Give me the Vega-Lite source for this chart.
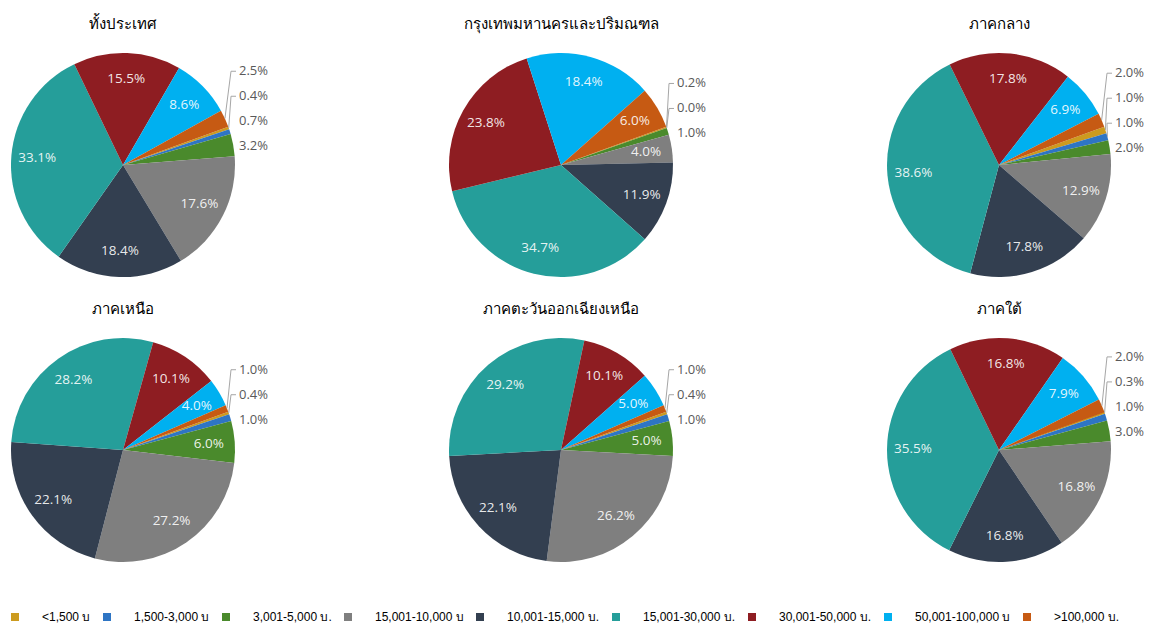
{
  "$schema": "https://vega.github.io/schema/vega-lite/v6.json",
  "background": "white",
  "padding": {"left": 3, "top": 17, "right": 0, "bottom": 0},
  "data": {"values": [
    {"region": "ทั้งประเทศ", "cat": "<1,500 บ", "o": 1, "v": 0.4},
    {"region": "ทั้งประเทศ", "cat": "1,500-3,000 บ", "o": 2, "v": 0.7},
    {"region": "ทั้งประเทศ", "cat": "3,001-5,000 บ.", "o": 3, "v": 3.2},
    {"region": "ทั้งประเทศ", "cat": "15,001-10,000 บ", "o": 4, "v": 17.6},
    {"region": "ทั้งประเทศ", "cat": "10,001-15,000 บ.", "o": 5, "v": 18.4},
    {"region": "ทั้งประเทศ", "cat": "15,001-30,000 บ.", "o": 6, "v": 33.1},
    {"region": "ทั้งประเทศ", "cat": "30,001-50,000 บ.", "o": 7, "v": 15.5},
    {"region": "ทั้งประเทศ", "cat": "50,001-100,000 บ", "o": 8, "v": 8.6},
    {"region": "ทั้งประเทศ", "cat": ">100,000 บ.", "o": 9, "v": 2.5},
    {"region": "กรุงเทพมหานครและปริมณฑล", "cat": "<1,500 บ", "o": 1, "v": 0.2},
    {"region": "กรุงเทพมหานครและปริมณฑล", "cat": "1,500-3,000 บ", "o": 2, "v": 0.0},
    {"region": "กรุงเทพมหานครและปริมณฑล", "cat": "3,001-5,000 บ.", "o": 3, "v": 1.0},
    {"region": "กรุงเทพมหานครและปริมณฑล", "cat": "15,001-10,000 บ", "o": 4, "v": 4.0},
    {"region": "กรุงเทพมหานครและปริมณฑล", "cat": "10,001-15,000 บ.", "o": 5, "v": 11.9},
    {"region": "กรุงเทพมหานครและปริมณฑล", "cat": "15,001-30,000 บ.", "o": 6, "v": 34.7},
    {"region": "กรุงเทพมหานครและปริมณฑล", "cat": "30,001-50,000 บ.", "o": 7, "v": 23.8},
    {"region": "กรุงเทพมหานครและปริมณฑล", "cat": "50,001-100,000 บ", "o": 8, "v": 18.4},
    {"region": "กรุงเทพมหานครและปริมณฑล", "cat": ">100,000 บ.", "o": 9, "v": 6.0},
    {"region": "ภาคกลาง", "cat": "<1,500 บ", "o": 1, "v": 1.0},
    {"region": "ภาคกลาง", "cat": "1,500-3,000 บ", "o": 2, "v": 1.0},
    {"region": "ภาคกลาง", "cat": "3,001-5,000 บ.", "o": 3, "v": 2.0},
    {"region": "ภาคกลาง", "cat": "15,001-10,000 บ", "o": 4, "v": 12.9},
    {"region": "ภาคกลาง", "cat": "10,001-15,000 บ.", "o": 5, "v": 17.8},
    {"region": "ภาคกลาง", "cat": "15,001-30,000 บ.", "o": 6, "v": 38.6},
    {"region": "ภาคกลาง", "cat": "30,001-50,000 บ.", "o": 7, "v": 17.8},
    {"region": "ภาคกลาง", "cat": "50,001-100,000 บ", "o": 8, "v": 6.9},
    {"region": "ภาคกลาง", "cat": ">100,000 บ.", "o": 9, "v": 2.0},
    {"region": "ภาคเหนือ", "cat": "<1,500 บ", "o": 1, "v": 0.4},
    {"region": "ภาคเหนือ", "cat": "1,500-3,000 บ", "o": 2, "v": 1.0},
    {"region": "ภาคเหนือ", "cat": "3,001-5,000 บ.", "o": 3, "v": 6.0},
    {"region": "ภาคเหนือ", "cat": "15,001-10,000 บ", "o": 4, "v": 27.2},
    {"region": "ภาคเหนือ", "cat": "10,001-15,000 บ.", "o": 5, "v": 22.1},
    {"region": "ภาคเหนือ", "cat": "15,001-30,000 บ.", "o": 6, "v": 28.2},
    {"region": "ภาคเหนือ", "cat": "30,001-50,000 บ.", "o": 7, "v": 10.1},
    {"region": "ภาคเหนือ", "cat": "50,001-100,000 บ", "o": 8, "v": 4.0},
    {"region": "ภาคเหนือ", "cat": ">100,000 บ.", "o": 9, "v": 1.0},
    {"region": "ภาคตะวันออกเฉียงเหนือ", "cat": "<1,500 บ", "o": 1, "v": 0.4},
    {"region": "ภาคตะวันออกเฉียงเหนือ", "cat": "1,500-3,000 บ", "o": 2, "v": 1.0},
    {"region": "ภาคตะวันออกเฉียงเหนือ", "cat": "3,001-5,000 บ.", "o": 3, "v": 5.0},
    {"region": "ภาคตะวันออกเฉียงเหนือ", "cat": "15,001-10,000 บ", "o": 4, "v": 26.2},
    {"region": "ภาคตะวันออกเฉียงเหนือ", "cat": "10,001-15,000 บ.", "o": 5, "v": 22.1},
    {"region": "ภาคตะวันออกเฉียงเหนือ", "cat": "15,001-30,000 บ.", "o": 6, "v": 29.2},
    {"region": "ภาคตะวันออกเฉียงเหนือ", "cat": "30,001-50,000 บ.", "o": 7, "v": 10.1},
    {"region": "ภาคตะวันออกเฉียงเหนือ", "cat": "50,001-100,000 บ", "o": 8, "v": 5.0},
    {"region": "ภาคตะวันออกเฉียงเหนือ", "cat": ">100,000 บ.", "o": 9, "v": 1.0},
    {"region": "ภาคใต้", "cat": "<1,500 บ", "o": 1, "v": 0.3},
    {"region": "ภาคใต้", "cat": "1,500-3,000 บ", "o": 2, "v": 1.0},
    {"region": "ภาคใต้", "cat": "3,001-5,000 บ.", "o": 3, "v": 3.0},
    {"region": "ภาคใต้", "cat": "15,001-10,000 บ", "o": 4, "v": 16.8},
    {"region": "ภาคใต้", "cat": "10,001-15,000 บ.", "o": 5, "v": 16.8},
    {"region": "ภาคใต้", "cat": "15,001-30,000 บ.", "o": 6, "v": 35.5},
    {"region": "ภาคใต้", "cat": "30,001-50,000 บ.", "o": 7, "v": 16.8},
    {"region": "ภาคใต้", "cat": "50,001-100,000 บ", "o": 8, "v": 7.9},
    {"region": "ภาคใต้", "cat": ">100,000 บ.", "o": 9, "v": 2.0}
  ]},
  "transform": [{"calculate": "format(datum.v, '.1f') + '%'", "as": "lab"}],
  "facet": {
    "field": "region", "type": "nominal",
    "sort": ["ทั้งประเทศ", "กรุงเทพมหานครและปริมณฑล", "ภาคกลาง", "ภาคเหนือ", "ภาคตะวันออกเฉียงเหนือ", "ภาคใต้"],
    "header": {"title": null, "labelFontSize": 15, "labelColor": "#000000", "labelPadding": 8, "labelFont": "Noto Sans"}
  },
  "columns": 3,
  "spacing": {"row": 12, "column": 172},
  "spec": {
    "width": 240,
    "height": 250,
    "layer": [
      {
        "mark": {"type": "arc", "outerRadius": 112},
        "encoding": {
          "theta": {"field": "v", "type": "quantitative", "stack": true, "scale": {"domain": [0, 100], "range": [1.2217, 7.5049]}},
          "order": {"field": "o", "type": "quantitative", "sort": "ascending"},
          "color": {
            "field": "cat", "type": "nominal",
            "scale": {
              "domain": ["<1,500 บ", "1,500-3,000 บ", "3,001-5,000 บ.", "15,001-10,000 บ", "10,001-15,000 บ.", "15,001-30,000 บ.", "30,001-50,000 บ.", "50,001-100,000 บ", ">100,000 บ."],
              "range": ["#CC9B1F", "#2E75C4", "#4A8A2C", "#7F7F7F", "#333F50", "#259E9A", "#8E1D22", "#00B0F0", "#C65A13"]
            },
            "legend": {"title": null}
          }
        }
      },
      {
        "mark": {"type": "text", "radius": 86, "font": "Open Sans", "fontSize": 13.5, "fill": "#ffffff", "fillOpacity": 0.9},
        "encoding": {
          "theta": {"field": "v", "type": "quantitative", "stack": true},
          "order": {"field": "o", "type": "quantitative", "sort": "ascending"},
          "detail": {"field": "cat", "type": "nominal"},
          "text": {"condition": {"test": "datum.v >= 4", "field": "lab"}, "value": ""}
        }
      },
      {
        "transform": [
          {"window": [{"op": "sum", "field": "v", "as": "cum"}], "sort": [{"field": "o", "order": "ascending"}], "groupby": ["region"], "frame": [null, 0]},
          {"calculate": "(70 + (datum.cum - datum.v / 2) * 3.6) * PI / 180", "as": "mid"},
          {"filter": "datum.v < 4"},
          {"calculate": "datum.o == 9 ? 0 : datum.o", "as": "key"},
          {"window": [{"op": "row_number", "as": "k"}], "sort": [{"field": "key", "order": "descending"}], "groupby": ["region"]},
          {"calculate": "-105 * cos(datum.mid) + 25 * datum.k", "as": "t"},
          {"window": [{"op": "min", "field": "t", "as": "tmin"}], "sort": [{"field": "key", "order": "descending"}], "groupby": ["region"], "frame": [null, 0]},
          {"calculate": "datum.tmin - 25 * datum.k", "as": "ly"},
          {"calculate": "116", "as": "lx"},
          {"calculate": "108", "as": "ex"},
          {"calculate": "113", "as": "tx"},
          {"calculate": "112 * sin(datum.mid)", "as": "px"},
          {"calculate": "-112 * cos(datum.mid)", "as": "py"},
          {"calculate": "sqrt(pow(datum.ex - datum.px, 2) + pow(datum.ly - datum.py, 2))", "as": "dist"}
        ],
        "layer": [
          {
            "transform": [{"filter": "datum.dist > 12"}],
            "mark": {"type": "rule", "stroke": "#a6a6a6", "strokeWidth": 1},
            "encoding": {
              "x": {"field": "px", "type": "quantitative", "scale": {"domain": [-120, 120], "nice": false, "zero": false}, "axis": null},
              "y": {"field": "py", "type": "quantitative", "scale": {"domain": [-125, 125], "nice": false, "zero": false, "reverse": true}, "axis": null},
              "x2": {"field": "ex"},
              "y2": {"field": "ly"}
            }
          },
          {
            "transform": [{"filter": "datum.dist > 12"}],
            "mark": {"type": "rule", "stroke": "#a6a6a6", "strokeWidth": 1},
            "encoding": {
              "x": {"field": "ex", "type": "quantitative"},
              "y": {"field": "ly", "type": "quantitative"},
              "x2": {"field": "tx"},
              "y2": {"field": "ly"}
            }
          },
          {
            "mark": {"type": "text", "align": "left", "baseline": "middle", "font": "Open Sans", "fontSize": 13, "fill": "#595959"},
            "encoding": {
              "x": {"field": "lx", "type": "quantitative"},
              "y": {"field": "ly", "type": "quantitative"},
              "text": {"field": "lab"}
            }
          }
        ]
      }
    ]
  },
  "config": {
    "view": {"stroke": null},
    "legend": {
      "orient": "bottom", "direction": "horizontal", "symbolType": "square", "symbolSize": 64,
      "symbolStrokeWidth": 0, "labelFontSize": 12, "labelFont": "Liberation Sans", "labelColor": "#000000",
      "labelOffset": 21, "columnPadding": 10, "offset": 30, "labelLimit": 200, "padding": 6
    }
  }
}
